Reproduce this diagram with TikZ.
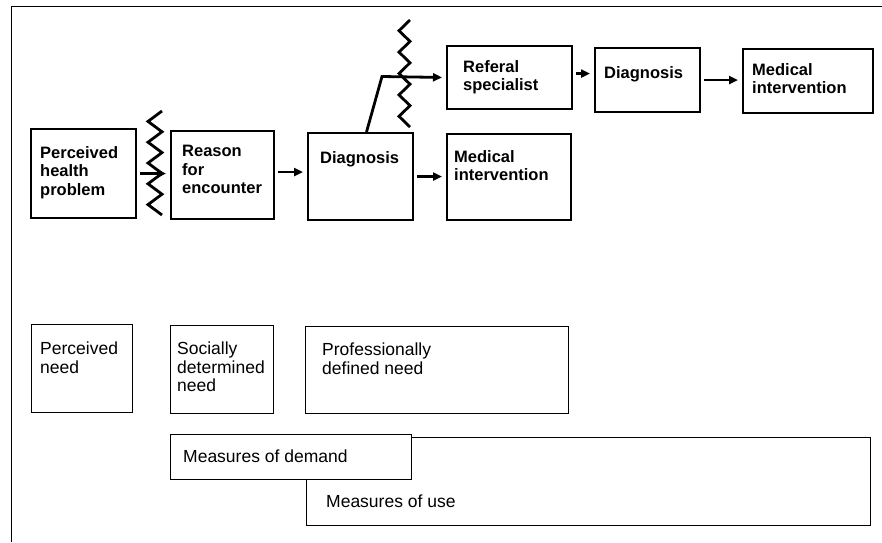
\documentclass[tikz,border=0pt]{standalone}
\usepackage{fontspec}
\setmainfont{Liberation Sans}
\usetikzlibrary{arrows.meta}

\tikzset{
  flowbox/.style={draw, line width=2pt, anchor=north west, inner sep=0pt},
  needbox/.style={draw, line width=1pt, anchor=north west, inner sep=0pt, fill=white},
  flowtext/.style={anchor=north west, inner sep=0pt, align=left, font=\fontsize{16.5}{18.5}\selectfont\bfseries},
  needtext/.style={anchor=north west, inner sep=0pt, align=left, font=\fontsize{17.5}{18.5}\selectfont},
  flowarrow/.style={line width=2.8pt, -{Triangle[length=9pt,width=8pt]}, shorten <=3pt, shorten >=4pt},
  cutmark/.style={line width=2.8pt, line join=miter}
}

\begin{document}
\begin{tikzpicture}[x=1pt,y=-1pt]
        \useasboundingbox (0,0) rectangle (882,542);
        \draw[line width=1pt] (11,542) -- (11,6) -- (882,6);

        \node[flowbox, minimum width=105pt, minimum height=89pt] (php) at (30,128) {};
        \node[flowbox, minimum width=103pt, minimum height=88pt] (rfe) at (170,130) {};
        \node[flowbox, minimum width=105pt, minimum height=87pt] (dia) at (307,132) {};
        \node[flowbox, minimum width=124pt, minimum height=86pt] (mi) at (446,133) {};
        \node[flowbox, minimum width=125pt, minimum height=63pt] (ref) at (446,45) {};
        \node[flowbox, minimum width=105pt, minimum height=64pt] (spdia) at (594,47) {};
        \node[flowbox, minimum width=130pt, minimum height=64pt] (spmi) at (742,48) {};

        \node[flowtext] (phpT) at (40,146) {Perceived\\health\\problem};
        \node[flowtext] (rfeT) at (182,145) {Reason\\for\\encounter};
        \node[flowtext] (diaT) at (320,151) {Diagnosis};
        \node[flowtext] (miT) at (454,150) {Medical\\intervention};
        \node[flowtext] (refT) at (463,60) {Referal\\specialist};
        \node[flowtext] (spdiaT) at (604,66) {Diagnosis};
        \node[flowtext] (spmiT) at (752,63) {Medical\\intervention};

        \draw[cutmark] (162,111) \foreach \k in {1,...,5} { -- ++(-14,10.4) -- ++(14,10.4) };
        \draw[cutmark] (410,20) \foreach \k in {1,...,5} { -- ++(-11,10.7) -- ++(11,10.7) };

        \draw[flowarrow] (php.east) -- (php.east -| rfe.west);
        \draw[flowarrow] ([yshift=3pt]rfe.east) -- ([yshift=3pt]rfe.east -| dia.west);
        \draw[flowarrow] (dia.east) -- (dia.east -| mi.west);
        \coordinate (knee) at (382,76.5);
        \draw[flowarrow, shorten <=0pt] ([xshift=6pt]dia.north) -- (knee) -- (ref.west);
        \draw[flowarrow] ([yshift=4pt]ref.east) -- ([yshift=4pt]ref.east -| spdia.west);
        \draw[flowarrow] (spdia.east) -- (spdia.east -| spmi.west);

        \node[needbox, minimum width=101pt, minimum height=88pt] (pneed) at (31,324) {};
        \node[needbox, minimum width=103pt, minimum height=88pt] (sneed) at (170,325) {};
        \node[needbox, minimum width=263pt, minimum height=87pt] (dneed) at (305,326) {};
        \node[needbox, minimum width=564pt, minimum height=88pt] (use) at (306,437) {};
        \node[needbox, minimum width=241pt, minimum height=45pt] (demand) at (170,434) {};

        \node[needtext] (pneedT) at (40,342) {Perceived\\need};
        \node[needtext] (sneedT) at (177,342) {Socially\\determined\\need};
        \node[needtext] (dneedT) at (322,343) {Professionally\\defined need};
        \node[needtext] (demandT) at (183,450) {Measures of demand};
        \node[needtext] (useT) at (326,495) {Measures of use};
    \end{tikzpicture}
\end{document}
